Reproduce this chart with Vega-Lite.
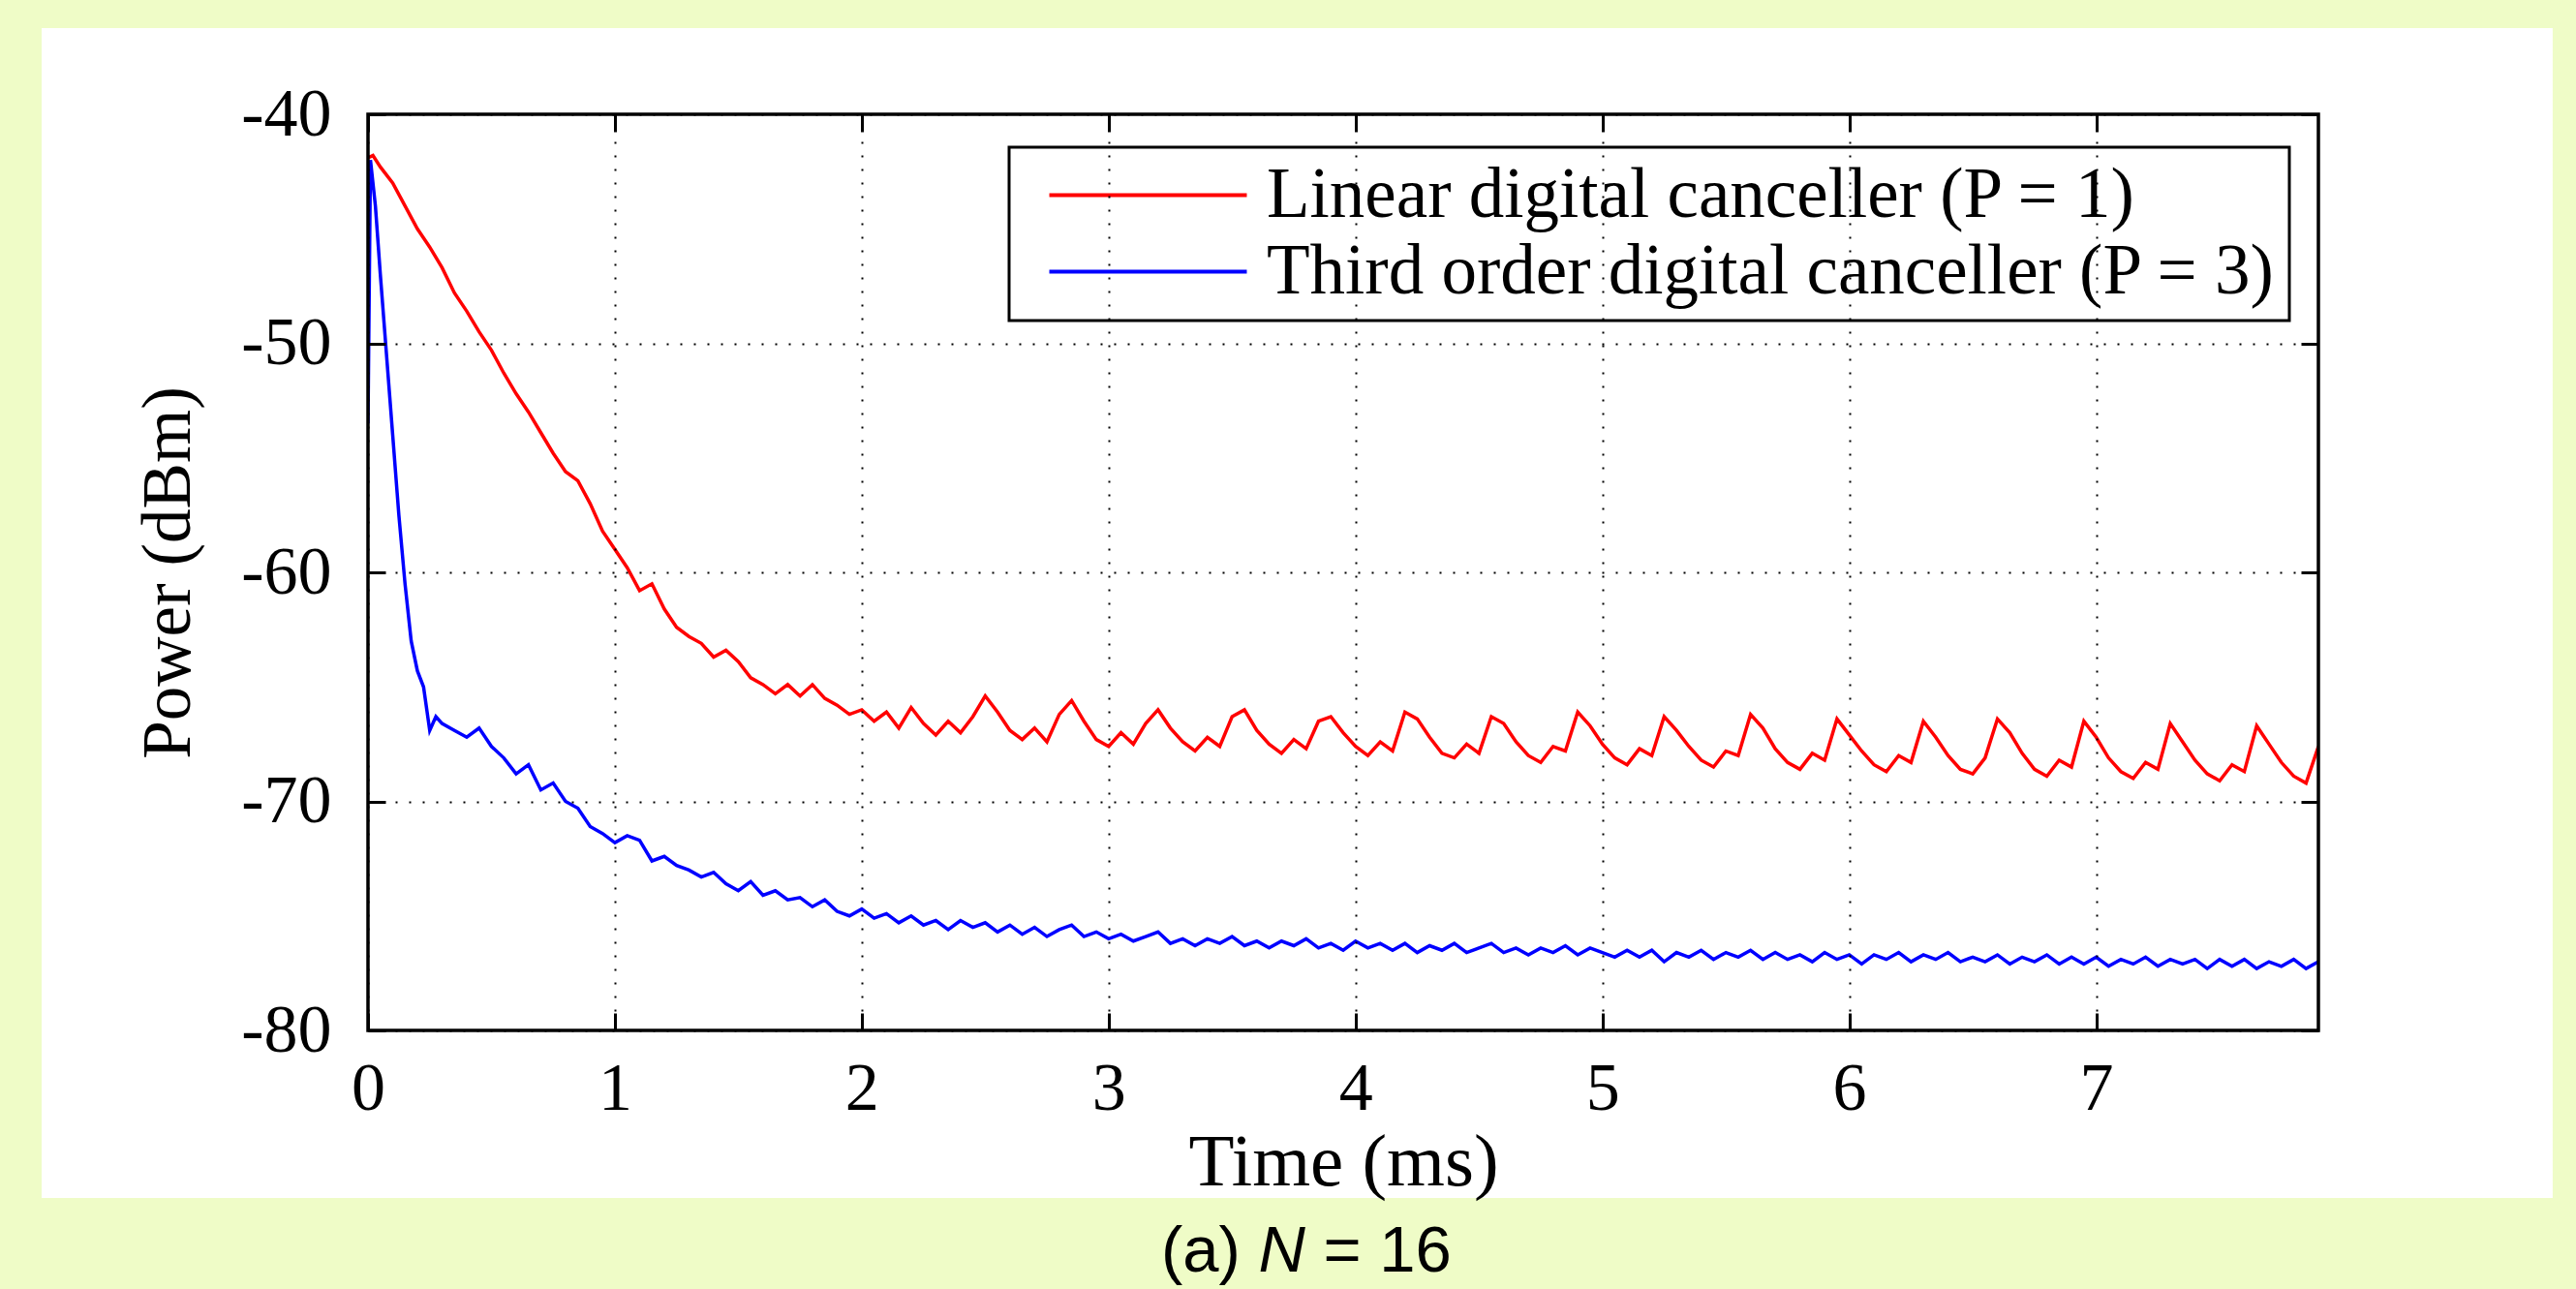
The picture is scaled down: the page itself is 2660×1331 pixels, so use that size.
{
  "$schema": "https://vega.github.io/schema/vega-lite/v6.json",
  "width": 2014,
  "height": 946,
  "autosize": {"type": "none"},
  "padding": {"left": 380, "top": 118, "right": 266, "bottom": 267},
  "background": "#effcc7",
  "config": {"view": {"stroke": null}},
  "datasets": {
    "curves": [
      {"t":0.00,"p":-41.9,"s":"L"},{"t":0.02,"p":-41.8,"s":"L"},{"t":0.05,"p":-42.3,"s":"L"},{"t":0.10,"p":-43.0,"s":"L"},{"t":0.15,"p":-44.0,"s":"L"},{"t":0.20,"p":-45.0,"s":"L"},{"t":0.25,"p":-45.8,"s":"L"},{"t":0.30,"p":-46.7,"s":"L"},{"t":0.35,"p":-47.8,"s":"L"},{"t":0.40,"p":-48.6,"s":"L"},{"t":0.45,"p":-49.5,"s":"L"},{"t":0.50,"p":-50.3,"s":"L"},{"t":0.55,"p":-51.3,"s":"L"},{"t":0.60,"p":-52.2,"s":"L"},{"t":0.65,"p":-53.0,"s":"L"},{"t":0.70,"p":-53.9,"s":"L"},{"t":0.75,"p":-54.8,"s":"L"},{"t":0.80,"p":-55.6,"s":"L"},{"t":0.85,"p":-56.0,"s":"L"},{"t":0.90,"p":-57.0,"s":"L"},{"t":0.95,"p":-58.2,"s":"L"},{"t":1.00,"p":-59.0,"s":"L"},{"t":1.05,"p":-59.8,"s":"L"},{"t":1.10,"p":-60.8,"s":"L"},{"t":1.15,"p":-60.5,"s":"L"},{"t":1.20,"p":-61.6,"s":"L"},{"t":1.25,"p":-62.4,"s":"L"},{"t":1.30,"p":-62.8,"s":"L"},{"t":1.35,"p":-63.1,"s":"L"},{"t":1.40,"p":-63.7,"s":"L"},{"t":1.45,"p":-63.4,"s":"L"},{"t":1.50,"p":-63.9,"s":"L"},{"t":1.55,"p":-64.6,"s":"L"},{"t":1.60,"p":-64.9,"s":"L"},{"t":1.65,"p":-65.3,"s":"L"},{"t":1.70,"p":-64.9,"s":"L"},{"t":1.75,"p":-65.4,"s":"L"},{"t":1.80,"p":-64.9,"s":"L"},{"t":1.85,"p":-65.5,"s":"L"},{"t":1.90,"p":-65.8,"s":"L"},{"t":1.95,"p":-66.2,"s":"L"},
      {"t":2.00,"p":-66.0,"s":"L"},{"t":2.05,"p":-66.5,"s":"L"},{"t":2.10,"p":-66.1,"s":"L"},{"t":2.15,"p":-66.8,"s":"L"},{"t":2.20,"p":-65.9,"s":"L"},{"t":2.25,"p":-66.6,"s":"L"},{"t":2.30,"p":-67.1,"s":"L"},{"t":2.35,"p":-66.5,"s":"L"},{"t":2.40,"p":-67.0,"s":"L"},{"t":2.45,"p":-66.3,"s":"L"},{"t":2.50,"p":-65.4,"s":"L"},{"t":2.55,"p":-66.1,"s":"L"},{"t":2.60,"p":-66.9,"s":"L"},{"t":2.65,"p":-67.3,"s":"L"},{"t":2.70,"p":-66.8,"s":"L"},{"t":2.75,"p":-67.4,"s":"L"},{"t":2.80,"p":-66.2,"s":"L"},{"t":2.85,"p":-65.6,"s":"L"},{"t":2.90,"p":-66.5,"s":"L"},{"t":2.95,"p":-67.3,"s":"L"},
      {"t":3.00,"p":-67.6,"s":"L"},{"t":3.05,"p":-67.0,"s":"L"},{"t":3.10,"p":-67.5,"s":"L"},{"t":3.15,"p":-66.6,"s":"L"},{"t":3.20,"p":-66.0,"s":"L"},{"t":3.25,"p":-66.8,"s":"L"},{"t":3.30,"p":-67.4,"s":"L"},{"t":3.35,"p":-67.8,"s":"L"},{"t":3.40,"p":-67.2,"s":"L"},{"t":3.45,"p":-67.6,"s":"L"},{"t":3.50,"p":-66.3,"s":"L"},{"t":3.55,"p":-66.0,"s":"L"},{"t":3.60,"p":-66.9,"s":"L"},{"t":3.65,"p":-67.5,"s":"L"},{"t":3.70,"p":-67.9,"s":"L"},{"t":3.75,"p":-67.3,"s":"L"},{"t":3.80,"p":-67.7,"s":"L"},{"t":3.85,"p":-66.5,"s":"L"},{"t":3.90,"p":-66.3,"s":"L"},{"t":3.95,"p":-67.0,"s":"L"},
      {"t":4.00,"p":-67.6,"s":"L"},{"t":4.05,"p":-68.0,"s":"L"},{"t":4.10,"p":-67.4,"s":"L"},{"t":4.15,"p":-67.8,"s":"L"},{"t":4.20,"p":-66.1,"s":"L"},{"t":4.25,"p":-66.4,"s":"L"},{"t":4.30,"p":-67.2,"s":"L"},{"t":4.35,"p":-67.9,"s":"L"},{"t":4.40,"p":-68.1,"s":"L"},{"t":4.45,"p":-67.5,"s":"L"},{"t":4.50,"p":-67.9,"s":"L"},{"t":4.55,"p":-66.3,"s":"L"},{"t":4.60,"p":-66.6,"s":"L"},{"t":4.65,"p":-67.4,"s":"L"},{"t":4.70,"p":-68.0,"s":"L"},{"t":4.75,"p":-68.3,"s":"L"},{"t":4.80,"p":-67.6,"s":"L"},{"t":4.85,"p":-67.8,"s":"L"},{"t":4.90,"p":-66.1,"s":"L"},{"t":4.95,"p":-66.7,"s":"L"},
      {"t":5.00,"p":-67.5,"s":"L"},{"t":5.05,"p":-68.1,"s":"L"},{"t":5.10,"p":-68.4,"s":"L"},{"t":5.15,"p":-67.7,"s":"L"},{"t":5.20,"p":-68.0,"s":"L"},{"t":5.25,"p":-66.3,"s":"L"},{"t":5.30,"p":-66.9,"s":"L"},{"t":5.35,"p":-67.6,"s":"L"},{"t":5.40,"p":-68.2,"s":"L"},{"t":5.45,"p":-68.5,"s":"L"},{"t":5.50,"p":-67.8,"s":"L"},{"t":5.55,"p":-68.0,"s":"L"},{"t":5.60,"p":-66.2,"s":"L"},{"t":5.65,"p":-66.8,"s":"L"},{"t":5.70,"p":-67.7,"s":"L"},{"t":5.75,"p":-68.3,"s":"L"},{"t":5.80,"p":-68.6,"s":"L"},{"t":5.85,"p":-67.9,"s":"L"},{"t":5.90,"p":-68.2,"s":"L"},{"t":5.95,"p":-66.4,"s":"L"},
      {"t":6.00,"p":-67.1,"s":"L"},{"t":6.05,"p":-67.8,"s":"L"},{"t":6.10,"p":-68.4,"s":"L"},{"t":6.15,"p":-68.7,"s":"L"},{"t":6.20,"p":-68.0,"s":"L"},{"t":6.25,"p":-68.3,"s":"L"},{"t":6.30,"p":-66.5,"s":"L"},{"t":6.35,"p":-67.2,"s":"L"},{"t":6.40,"p":-68.0,"s":"L"},{"t":6.45,"p":-68.6,"s":"L"},{"t":6.50,"p":-68.8,"s":"L"},{"t":6.55,"p":-68.1,"s":"L"},{"t":6.60,"p":-66.4,"s":"L"},{"t":6.65,"p":-67.0,"s":"L"},{"t":6.70,"p":-67.9,"s":"L"},{"t":6.75,"p":-68.6,"s":"L"},{"t":6.80,"p":-68.9,"s":"L"},{"t":6.85,"p":-68.2,"s":"L"},{"t":6.90,"p":-68.5,"s":"L"},{"t":6.95,"p":-66.5,"s":"L"},
      {"t":7.00,"p":-67.2,"s":"L"},{"t":7.05,"p":-68.1,"s":"L"},{"t":7.10,"p":-68.7,"s":"L"},{"t":7.15,"p":-69.0,"s":"L"},{"t":7.20,"p":-68.3,"s":"L"},{"t":7.25,"p":-68.6,"s":"L"},{"t":7.30,"p":-66.6,"s":"L"},{"t":7.35,"p":-67.4,"s":"L"},{"t":7.40,"p":-68.2,"s":"L"},{"t":7.45,"p":-68.8,"s":"L"},{"t":7.50,"p":-69.1,"s":"L"},{"t":7.55,"p":-68.4,"s":"L"},{"t":7.60,"p":-68.7,"s":"L"},{"t":7.65,"p":-66.7,"s":"L"},{"t":7.70,"p":-67.5,"s":"L"},{"t":7.75,"p":-68.3,"s":"L"},{"t":7.80,"p":-68.9,"s":"L"},{"t":7.85,"p":-69.2,"s":"L"},{"t":7.90,"p":-67.6,"s":"L"},
      {"t":0.000,"p":-53.5,"s":"T"},{"t":0.010,"p":-42.0,"s":"T"},{"t":0.030,"p":-44.0,"s":"T"},{"t":0.050,"p":-47.0,"s":"T"},{"t":0.075,"p":-50.5,"s":"T"},{"t":0.100,"p":-54.0,"s":"T"},{"t":0.125,"p":-57.5,"s":"T"},{"t":0.150,"p":-60.5,"s":"T"},{"t":0.175,"p":-63.0,"s":"T"},{"t":0.200,"p":-64.3,"s":"T"},{"t":0.225,"p":-65.0,"s":"T"},{"t":0.250,"p":-66.9,"s":"T"},{"t":0.275,"p":-66.3,"s":"T"},{"t":0.300,"p":-66.6,"s":"T"},{"t":0.35,"p":-66.9,"s":"T"},{"t":0.40,"p":-67.2,"s":"T"},{"t":0.45,"p":-66.8,"s":"T"},{"t":0.50,"p":-67.6,"s":"T"},{"t":0.55,"p":-68.1,"s":"T"},{"t":0.60,"p":-68.8,"s":"T"},{"t":0.65,"p":-68.4,"s":"T"},{"t":0.70,"p":-69.5,"s":"T"},{"t":0.75,"p":-69.2,"s":"T"},{"t":0.80,"p":-70.0,"s":"T"},{"t":0.85,"p":-70.3,"s":"T"},{"t":0.90,"p":-71.1,"s":"T"},{"t":0.95,"p":-71.4,"s":"T"},
      {"t":1.00,"p":-71.8,"s":"T"},{"t":1.05,"p":-71.5,"s":"T"},{"t":1.10,"p":-71.7,"s":"T"},{"t":1.15,"p":-72.6,"s":"T"},{"t":1.20,"p":-72.4,"s":"T"},{"t":1.25,"p":-72.8,"s":"T"},{"t":1.30,"p":-73.0,"s":"T"},{"t":1.35,"p":-73.3,"s":"T"},{"t":1.40,"p":-73.1,"s":"T"},{"t":1.45,"p":-73.6,"s":"T"},{"t":1.50,"p":-73.9,"s":"T"},{"t":1.55,"p":-73.5,"s":"T"},{"t":1.60,"p":-74.1,"s":"T"},{"t":1.65,"p":-73.9,"s":"T"},{"t":1.70,"p":-74.3,"s":"T"},{"t":1.75,"p":-74.2,"s":"T"},{"t":1.80,"p":-74.6,"s":"T"},{"t":1.85,"p":-74.3,"s":"T"},{"t":1.90,"p":-74.8,"s":"T"},{"t":1.95,"p":-75.0,"s":"T"},
      {"t":2.00,"p":-74.7,"s":"T"},{"t":2.05,"p":-75.1,"s":"T"},{"t":2.10,"p":-74.9,"s":"T"},{"t":2.15,"p":-75.3,"s":"T"},{"t":2.20,"p":-75.0,"s":"T"},{"t":2.25,"p":-75.4,"s":"T"},{"t":2.30,"p":-75.2,"s":"T"},{"t":2.35,"p":-75.6,"s":"T"},{"t":2.40,"p":-75.2,"s":"T"},{"t":2.45,"p":-75.5,"s":"T"},{"t":2.50,"p":-75.3,"s":"T"},{"t":2.55,"p":-75.7,"s":"T"},{"t":2.60,"p":-75.4,"s":"T"},{"t":2.65,"p":-75.8,"s":"T"},{"t":2.70,"p":-75.5,"s":"T"},{"t":2.75,"p":-75.9,"s":"T"},{"t":2.80,"p":-75.6,"s":"T"},{"t":2.85,"p":-75.4,"s":"T"},{"t":2.90,"p":-75.9,"s":"T"},{"t":2.95,"p":-75.7,"s":"T"},
      {"t":3.00,"p":-76.0,"s":"T"},{"t":3.05,"p":-75.8,"s":"T"},{"t":3.10,"p":-76.1,"s":"T"},{"t":3.15,"p":-75.9,"s":"T"},{"t":3.20,"p":-75.7,"s":"T"},{"t":3.25,"p":-76.2,"s":"T"},{"t":3.30,"p":-76.0,"s":"T"},{"t":3.35,"p":-76.3,"s":"T"},{"t":3.40,"p":-76.0,"s":"T"},{"t":3.45,"p":-76.2,"s":"T"},{"t":3.50,"p":-75.9,"s":"T"},{"t":3.55,"p":-76.3,"s":"T"},{"t":3.60,"p":-76.1,"s":"T"},{"t":3.65,"p":-76.4,"s":"T"},{"t":3.70,"p":-76.1,"s":"T"},{"t":3.75,"p":-76.3,"s":"T"},{"t":3.80,"p":-76.0,"s":"T"},{"t":3.85,"p":-76.4,"s":"T"},{"t":3.90,"p":-76.2,"s":"T"},{"t":3.95,"p":-76.5,"s":"T"},
      {"t":4.00,"p":-76.1,"s":"T"},{"t":4.05,"p":-76.4,"s":"T"},{"t":4.10,"p":-76.2,"s":"T"},{"t":4.15,"p":-76.5,"s":"T"},{"t":4.20,"p":-76.2,"s":"T"},{"t":4.25,"p":-76.6,"s":"T"},{"t":4.30,"p":-76.3,"s":"T"},{"t":4.35,"p":-76.5,"s":"T"},{"t":4.40,"p":-76.2,"s":"T"},{"t":4.45,"p":-76.6,"s":"T"},{"t":4.50,"p":-76.4,"s":"T"},{"t":4.55,"p":-76.2,"s":"T"},{"t":4.60,"p":-76.6,"s":"T"},{"t":4.65,"p":-76.4,"s":"T"},{"t":4.70,"p":-76.7,"s":"T"},{"t":4.75,"p":-76.4,"s":"T"},{"t":4.80,"p":-76.6,"s":"T"},{"t":4.85,"p":-76.3,"s":"T"},{"t":4.90,"p":-76.7,"s":"T"},{"t":4.95,"p":-76.4,"s":"T"},
      {"t":5.00,"p":-76.6,"s":"T"},{"t":5.05,"p":-76.8,"s":"T"},{"t":5.10,"p":-76.5,"s":"T"},{"t":5.15,"p":-76.8,"s":"T"},{"t":5.20,"p":-76.5,"s":"T"},{"t":5.25,"p":-77.0,"s":"T"},{"t":5.30,"p":-76.6,"s":"T"},{"t":5.35,"p":-76.8,"s":"T"},{"t":5.40,"p":-76.5,"s":"T"},{"t":5.45,"p":-76.9,"s":"T"},{"t":5.50,"p":-76.6,"s":"T"},{"t":5.55,"p":-76.8,"s":"T"},{"t":5.60,"p":-76.5,"s":"T"},{"t":5.65,"p":-76.9,"s":"T"},{"t":5.70,"p":-76.6,"s":"T"},{"t":5.75,"p":-76.9,"s":"T"},{"t":5.80,"p":-76.7,"s":"T"},{"t":5.85,"p":-77.0,"s":"T"},{"t":5.90,"p":-76.6,"s":"T"},{"t":5.95,"p":-76.9,"s":"T"},
      {"t":6.00,"p":-76.7,"s":"T"},{"t":6.05,"p":-77.1,"s":"T"},{"t":6.10,"p":-76.7,"s":"T"},{"t":6.15,"p":-76.9,"s":"T"},{"t":6.20,"p":-76.6,"s":"T"},{"t":6.25,"p":-77.0,"s":"T"},{"t":6.30,"p":-76.7,"s":"T"},{"t":6.35,"p":-76.9,"s":"T"},{"t":6.40,"p":-76.6,"s":"T"},{"t":6.45,"p":-77.0,"s":"T"},{"t":6.50,"p":-76.8,"s":"T"},{"t":6.55,"p":-77.0,"s":"T"},{"t":6.60,"p":-76.7,"s":"T"},{"t":6.65,"p":-77.1,"s":"T"},{"t":6.70,"p":-76.8,"s":"T"},{"t":6.75,"p":-77.0,"s":"T"},{"t":6.80,"p":-76.7,"s":"T"},{"t":6.85,"p":-77.1,"s":"T"},{"t":6.90,"p":-76.8,"s":"T"},{"t":6.95,"p":-77.1,"s":"T"},
      {"t":7.00,"p":-76.8,"s":"T"},{"t":7.05,"p":-77.2,"s":"T"},{"t":7.10,"p":-76.9,"s":"T"},{"t":7.15,"p":-77.1,"s":"T"},{"t":7.20,"p":-76.8,"s":"T"},{"t":7.25,"p":-77.2,"s":"T"},{"t":7.30,"p":-76.9,"s":"T"},{"t":7.35,"p":-77.1,"s":"T"},{"t":7.40,"p":-76.9,"s":"T"},{"t":7.45,"p":-77.3,"s":"T"},{"t":7.50,"p":-76.9,"s":"T"},{"t":7.55,"p":-77.2,"s":"T"},{"t":7.60,"p":-76.9,"s":"T"},{"t":7.65,"p":-77.3,"s":"T"},{"t":7.70,"p":-77.0,"s":"T"},{"t":7.75,"p":-77.2,"s":"T"},{"t":7.80,"p":-76.9,"s":"T"},{"t":7.85,"p":-77.3,"s":"T"},{"t":7.90,"p":-77.0,"s":"T"}
    ]
  },
  "resolve": {"axis": {"x": "independent", "y": "independent"}},
  "layer": [
    {
      "data": {"values": [{}]},
      "mark": {"type": "rect", "fill": "white", "stroke": null, "clip": false},
      "encoding": {
        "x": {"datum": -1.322, "type": "quantitative", "axis": null, "scale": {"domain": [0, 7.9], "nice": false, "zero": false}},
        "x2": {"datum": 8.849},
        "y": {"datum": -36.237, "type": "quantitative", "axis": null, "scale": {"domain": [-80, -40], "nice": false, "zero": false}},
        "y2": {"datum": -87.315}
      }
    },
    {
      "data": {"name": "curves"},
      "mark": {"type": "line", "strokeWidth": 3.5, "clip": true},
      "encoding": {
        "x": {
          "field": "t", "type": "quantitative",
          "axis": {
            "orient": "bottom", "values": [0,1,2,3,4,5,6,7], "labelExpr": "toString(datum.value)",
            "grid": true, "gridColor": "black", "gridDash": [2, 12], "gridWidth": 2, "gridOpacity": 1,
            "domain": false, "ticks": true, "tickSize": -18, "tickWidth": 3, "tickColor": "black",
            "labelFont": "Liberation Serif", "labelFontSize": 70, "labelColor": "black", "labelPadding": 44, "labelFlush": false,
            "title": "Time (ms)", "titleFont": "Liberation Serif", "titleFontSize": 77, "titleFontWeight": "normal", "titleColor": "black", "titlePadding": 3,
            "zindex": 1
          }
        },
        "y": {
          "field": "p", "type": "quantitative",
          "axis": {
            "orient": "left", "values": [-80,-70,-60,-50,-40], "labelExpr": "toString(datum.value)",
            "grid": true, "gridColor": "black", "gridDash": [2, 12], "gridWidth": 2, "gridOpacity": 1,
            "domain": false, "ticks": true, "tickSize": -18, "tickWidth": 3, "tickColor": "black",
            "labelFont": "Liberation Serif", "labelFontSize": 70, "labelColor": "black", "labelPadding": 56,
            "title": "Power (dBm)", "titleFont": "Liberation Serif", "titleFontSize": 71, "titleFontWeight": "normal", "titleColor": "black", "titlePadding": 38,
            "zindex": 1
          }
        },
        "color": {
          "field": "s", "type": "nominal",
          "scale": {"domain": ["L", "T"], "range": ["#ff0000", "#0000ff"]},
          "legend": {
            "orient": "none", "legendX": 662, "legendY": 34, "title": null,
            "symbolType": "M-10,0H10", "symbolSize": 416, "symbolStrokeWidth": 4, "symbolOffset": 94,
            "labelFont": "Liberation Serif", "labelFontSize": 73, "labelColor": "black", "labelLimit": 0,
            "labelOffset": 86, "rowPadding": 5, "padding": 13,
            "strokeColor": "black", "fillColor": "white",
            "encode": {"legend": {"update": {"strokeWidth": {"value": 3}}}},
            "labelExpr": "datum.label == 'L' ? 'Linear digital canceller (P = 1)' : 'Third order digital canceller (P = 3)'"
          }
        }
      }
    },
    {
      "data": {"values": [{}]},
      "mark": {"type": "rect", "filled": false, "stroke": "black", "strokeWidth": 3.5},
      "encoding": {
        "x": {"datum": 0, "type": "quantitative", "axis": {"orient": "top", "values": [0,1,2,3,4,5,6,7], "grid": false, "labels": false, "domain": false, "ticks": true, "tickSize": -18, "tickWidth": 3, "tickColor": "black", "title": null, "zindex": 1}},
        "x2": {"datum": 7.9},
        "y": {"datum": -80, "type": "quantitative", "axis": {"orient": "right", "values": [-80,-70,-60,-50,-40], "grid": false, "labels": false, "domain": false, "ticks": true, "tickSize": -18, "tickWidth": 3, "tickColor": "black", "title": null, "zindex": 1}},
        "y2": {"datum": -40}
      }
    },
    {
      "data": {"values": [{}]},
      "mark": {"type": "text", "text": "(a)", "font": "Liberation Sans", "fontSize": 67, "color": "black", "align": "left", "baseline": "alphabetic"},
      "encoding": {
        "x": {"datum": 3.2125, "type": "quantitative", "axis": null},
        "y": {"datum": -90.53, "type": "quantitative", "axis": null}
      }
    },
    {
      "data": {"values": [{}]},
      "mark": {"type": "text", "text": "N", "font": "Liberation Sans", "fontSize": 67, "fontStyle": "italic", "color": "black", "align": "left", "baseline": "alphabetic"},
      "encoding": {
        "x": {"datum": 3.607, "type": "quantitative", "axis": null},
        "y": {"datum": -90.53, "type": "quantitative", "axis": null}
      }
    },
    {
      "data": {"values": [{}]},
      "mark": {"type": "text", "text": "= 16", "font": "Liberation Sans", "fontSize": 67, "color": "black", "align": "left", "baseline": "alphabetic"},
      "encoding": {
        "x": {"datum": 3.870, "type": "quantitative", "axis": null},
        "y": {"datum": -90.53, "type": "quantitative", "axis": null}
      }
    }
  ]
}
